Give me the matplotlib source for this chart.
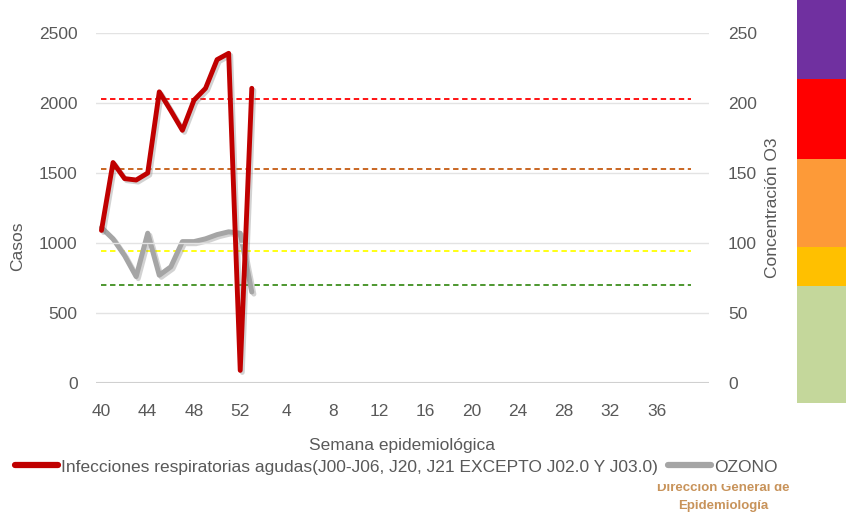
import matplotlib
matplotlib.use("Agg")
import matplotlib.pyplot as plt
import matplotlib.patheffects as pe
from matplotlib.lines import Line2D
from matplotlib.patches import Rectangle

plt.rcParams['font.family'] = ['Liberation Sans Narrow', 'Liberation Sans', 'DejaVu Sans']

# semanas epidemiologicas (eje de categorias)
semanas = [40, 41, 42, 43, 44, 45, 46, 47, 48, 49, 50, 51, 52,
           1, 2, 3, 4, 5, 6, 7, 8, 9, 10, 11, 12, 13, 14, 15, 16, 17, 18, 19, 20,
           21, 22, 23, 24, 25, 26, 27, 28, 29, 30, 31, 32, 33, 34, 35, 36, 37, 38, 39, 40]
etiquetas = ['40', '44', '48', '52', '4', '8', '12', '16', '20', '24', '28', '32', '36']

# casos de infecciones respiratorias agudas (eje izquierdo)
ira = [1090, 1575, 1460, 1450, 1500, 2080, 1945, 1805, 2020, 2105, 2310, 2355, 90, 2105]
# concentracion de ozono (eje derecho)
ozono = [111, 103, 91, 76, 107, 77, 83, 101, 101, 103, 106, 108, 107, 65]

# umbrales de ozono (lineas punteadas, eje derecho)
umbrales = [70, 94, 153, 203]
umbral_colores = ['#3f8f1f', '#ffff00', '#c55a11', '#ff0000']

# franjas de color (calidad del aire) a la derecha
franjas_colores = ['#7030a0', '#ff0000', '#fd9a38', '#ffc000', '#c4d79b']

fig = plt.figure(figsize=(8.46, 5.19), dpi=100)
ax = fig.add_axes([0.1131, 0.262, 0.7244, 0.6744])
ax2 = ax.twinx()

x = list(range(len(ira)))
sombra = [pe.SimpleLineShadow(offset=(1.5, -1.5), shadow_color='#808080', alpha=0.35), pe.Normal()]

n = len(semanas)
for val, col in zip(umbrales, umbral_colores):
    ax2.hlines(val, 0, n - 2, colors=col, linestyles=(0, (3, 2)), linewidth=1.3, zorder=2)

ax2.plot(x, ozono, color='#a5a5a5', linewidth=3.6, solid_joinstyle='round',
         solid_capstyle='round', path_effects=sombra, zorder=3)
ax.plot(x, ira, color='#c00000', linewidth=3.5, solid_joinstyle='round',
        solid_capstyle='round', path_effects=sombra, zorder=4)
ax.set_zorder(ax2.get_zorder() + 1)
ax.patch.set_visible(False)

ax.set_xlim(-0.5, n - 0.5)
ax.set_ylim(0, 2500)
ax2.set_ylim(0, 250)
ax.set_yticks([0, 500, 1000, 1500, 2000, 2500])
ax2.set_yticks([0, 50, 100, 150, 200, 250])
ax.set_xticks(range(0, len(etiquetas) * 4, 4))
ax.set_xticklabels(etiquetas)

ax.grid(axis='y', color='#e3e3e3', linewidth=1.0)
ax.set_axisbelow(True)
for a in (ax, ax2):
    for s in ['top', 'left', 'right', 'bottom']:
        a.spines[s].set_visible(False)
    a.tick_params(length=0, colors='#595959', labelsize=12.5)
ax.axhline(0, color='#d0d0d0', linewidth=1.5, zorder=1)
ax.tick_params(axis='y', pad=13)
ax.tick_params(axis='x', pad=15)
ax2.tick_params(axis='y', pad=14)

ax.set_ylabel('Casos', fontsize=12.5, color='#595959')
ax.yaxis.set_label_coords(-0.115, 0.39)
ax2.set_ylabel('Concentración O3', fontsize=12.5, color='#595959', labelpad=6)
ax.set_xlabel('Semana epidemiológica', fontsize=12.5, color='#595959', labelpad=14)

# franjas de color del indice de calidad del aire
limites = [0, 79, 159, 247, 286, 403]
for i, col in enumerate(franjas_colores):
    y0 = 1 - limites[i + 1] / 519
    h = (limites[i + 1] - limites[i]) / 519
    fig.patches.append(Rectangle((797 / 846, y0), 49 / 846, h, transform=fig.transFigure,
                                 facecolor=col, edgecolor='none'))

handles = [Line2D([], [], color='#c00000', linewidth=4.5, solid_capstyle='round'),
           Line2D([], [], color='#a5a5a5', linewidth=4.5, solid_capstyle='round')]
fig.legend(handles, ['Infecciones respiratorias agudas(J00-J06, J20, J21 EXCEPTO J02.0 Y J03.0)', 'OZONO'],
           loc='center', bbox_to_anchor=(0.468, 0.1002), ncol=2, frameon=False,
           handlelength=2.5, handletextpad=0.15, columnspacing=0.6, fontsize=12.5,
           labelcolor='#595959', borderaxespad=0)

fig.text(723 / 846, 1 - 488 / 519, 'Direccion General de', ha='center', va='center',
         fontsize=9.5, color='#c8935a', fontweight='bold')
fig.text(723 / 846, 1 - 506 / 519, 'Epidemiología', ha='center', va='center',
         fontsize=9.5, color='#c8935a', fontweight='bold')
# el logotipo aparece recortado por arriba
fig.patches.append(Rectangle((652 / 846, 1 - 484 / 519), 145 / 846, 7 / 519,
                             transform=fig.transFigure, facecolor='white',
                             edgecolor='none', zorder=5))

fig.savefig('out.png', dpi=100)
